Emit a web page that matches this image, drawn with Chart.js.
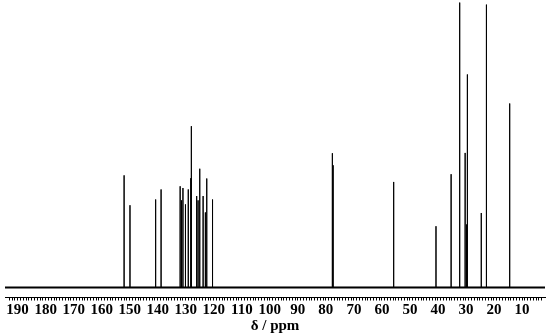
<!DOCTYPE html>
<html>
<head>
<meta charset="utf-8">
<script src="https://cdn.jsdelivr.net/npm/chart.js@4"></script>
<style>
  body { margin: 0; background: #fff; }
</style>
</head>
<body>
<canvas id="spectrum" width="550" height="334"></canvas>
<script>
/* DATA (13C shifts in ppm, relative heights) */
const peakShift = [152.0, 149.9, 140.8, 140.7, 138.8, 132.0, 131.5, 131.0, 130.1, 129.1,
  128.2, 128.0, 126.1, 125.6, 125.0, 123.8, 123.0, 122.5, 120.5, 120.4,
  77.8, 77.6, 77.4,
  55.8, 40.7, 35.3, 32.3, 32.2, 30.3, 29.8, 29.5, 24.6, 24.5, 22.7, 14.4];
const peakHeight = [39.0, 28.6, 21.6, 30.6, 34.1, 35.2, 30.3, 34.6, 28.9, 34.1,
  38.0, 56.1, 31.8, 30.3, 41.3, 31.8, 26.1, 37.9, 23.0, 30.6,
  46.7, 44.9, 42.5,
  36.7, 21.3, 39.4, 92.0, 99.1, 46.8, 21.9, 74.1, 20.5, 25.9, 98.4, 64.0];
const axisMin = 1.8, axisMax = 194.5;
const labelStep = 10;
const axisTitle = "δ / ppm";

/* PEAK STICKS */
const sticks = [];
peakShift.forEach((p, i) => {
  sticks.push({ x: p, y: 0 }, { x: p, y: peakHeight[i] }, { x: p, y: 0 });
});

const serif = "'Times New Roman', 'Liberation Serif', serif";

new Chart(spectrum, {
  type: "scatter",
  data: {
    datasets: [
      {
        data: sticks,
        showLine: true,
        borderColor: "#000",
        borderWidth: 1,
        pointRadius: 0,
        tension: 0
      },
      {
        data: [{ x: axisMax, y: 0 }, { x: axisMin, y: 0 }],
        showLine: true,
        borderColor: "#000",
        borderWidth: 2,
        pointRadius: 0
      }
    ]
  },
  options: {
    responsive: false,
    animation: false,
    layout: { padding: { left: 5, right: 5, top: 0, bottom: 0 } },
    plugins: { legend: { display: false }, tooltip: { enabled: false } },
    scales: {
      x: {
        type: "linear",
        reverse: true,
        min: axisMin,
        max: axisMax,
        afterBuildTicks: s => { s.ticks = s.ticks.filter(t => Number.isInteger(t.value)); },
        ticks: {
          stepSize: 1,
          autoSkip: false,
          maxRotation: 0,
          padding: 1,
          color: "#000",
          font: { family: serif, size: 15, weight: "bold", lineHeight: 1.1 },
          callback: v => (v % labelStep === 0 ? String(v) : "")
        },
        grid: { drawOnChartArea: false, tickLength: 3, tickColor: "#000", tickWidth: 1 },
        border: { display: true, color: "#000", width: 1 },
        title: {
          display: true,
          text: axisTitle,
          color: "#000",
          padding: 0,
          font: { family: serif, size: 15, weight: "bold", lineHeight: 1.0 }
        }
      },
      y: { display: false, min: -3.5, max: 100 }
    }
  }
});
</script>
</body>
</html>
